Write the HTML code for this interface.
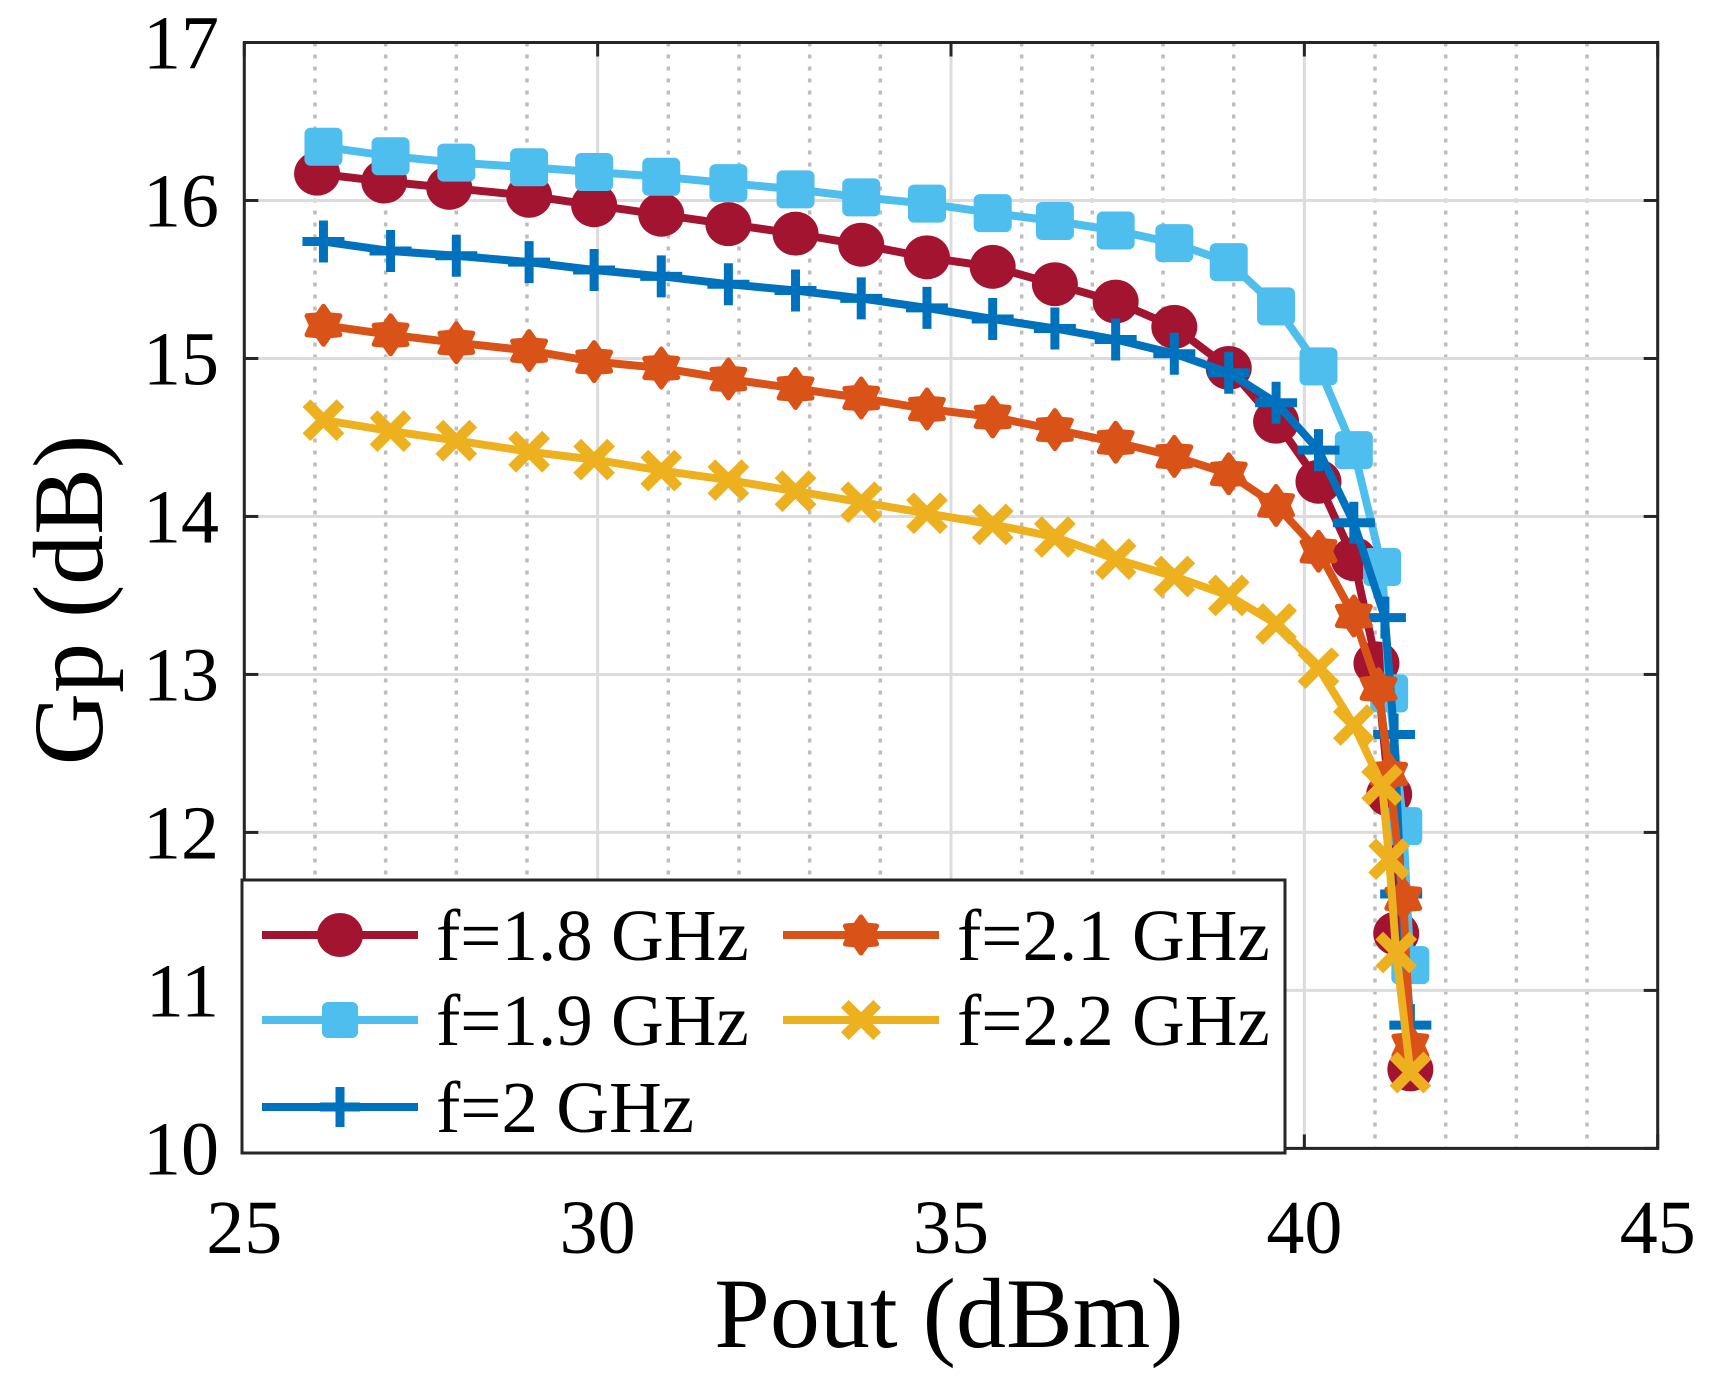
<!DOCTYPE html>
<html><head><meta charset="utf-8">
<style>
html,body{margin:0;padding:0;background:#fff;}
svg{display:block;}
text{font-family:"Liberation Serif","DejaVu Serif",serif;fill:#000;}
</style></head>
<body>
<svg id="chart" width="1710" height="1386" viewBox="0 0 1710 1386" xmlns="http://www.w3.org/2000/svg">
<rect width="1710" height="1386" fill="#fff"/>
<g id="grid"></g>
<g id="series"></g>
<g id="axes"></g>
<g id="legend"></g>
</svg>
<script>
const xTicks=[25,30,35,40,45];
const yTicks=[10,11,12,13,14,15,16,17];
const seriesNames=["f=1.8 GHz","f=1.9 GHz","f=2 GHz","f=2.1 GHz","f=2.2 GHz"];
const x18=[26.03,26.98,27.9,29.03,29.95,30.9,31.85,32.8,33.73,34.66,35.59,36.47,37.33,38.16,38.93,39.6,40.2,40.7,41.02,41.2,41.3,41.5];
const y18=[16.17,16.12,16.08,16.03,15.97,15.91,15.85,15.79,15.72,15.64,15.58,15.47,15.36,15.2,14.94,14.6,14.22,13.73,13.07,12.24,11.36,10.5];
const x19=[26.12,27.07,28.0,29.03,29.95,30.9,31.85,32.8,33.73,34.66,35.59,36.47,37.33,38.16,38.93,39.6,40.2,40.7,41.1,41.2,41.4,41.5];
const y19=[16.34,16.28,16.24,16.21,16.18,16.15,16.11,16.07,16.02,15.98,15.92,15.87,15.81,15.73,15.61,15.33,14.95,14.42,13.68,12.88,12.04,11.16];
const x20=[26.12,27.07,28.0,29.03,29.95,30.9,31.85,32.8,33.73,34.66,35.59,36.47,37.33,38.16,38.93,39.6,40.2,40.7,41.14,41.27,41.37,41.5];
const y20=[15.74,15.68,15.65,15.61,15.56,15.52,15.47,15.43,15.38,15.32,15.25,15.19,15.12,15.03,14.91,14.72,14.42,13.96,13.36,12.62,11.61,10.78];
const x21=[26.12,27.07,28.0,29.03,29.95,30.9,31.85,32.8,33.73,34.66,35.59,36.47,37.33,38.16,38.93,39.6,40.2,40.7,41.05,41.2,41.4,41.5];
const y21=[15.21,15.15,15.1,15.05,14.98,14.94,14.87,14.81,14.75,14.68,14.63,14.55,14.47,14.38,14.27,14.07,13.78,13.37,12.91,12.37,11.58,10.65];
const x22=[26.12,27.07,28.0,29.03,29.95,30.9,31.85,32.8,33.73,34.66,35.59,36.47,37.33,38.16,38.93,39.6,40.2,40.7,41.1,41.2,41.3,41.5];
const y22=[14.61,14.54,14.48,14.41,14.36,14.29,14.23,14.16,14.09,14.02,13.95,13.87,13.73,13.62,13.5,13.32,13.04,12.68,12.3,11.83,11.24,10.48];

const NS="http://www.w3.org/2000/svg";
const L=244.3,R=1657.7,T=42.5,B=1148.4;
const xMin=25,xMax=45,yMin=10,yMax=17;
function sx(v){return L+(v-xMin)/(xMax-xMin)*(R-L);}
function sy(v){return B-(v-yMin)/(yMax-yMin)*(B-T);}
function mk(tag,attrs,parent){const e=document.createElementNS(NS,tag);for(const k in attrs)e.setAttribute(k,attrs[k]);parent.appendChild(e);return e;}

const grid=document.getElementById('grid');
const axes=document.getElementById('axes');
const ser=document.getElementById('series');
const leg=document.getElementById('legend');

mk('rect',{x:L,y:T,width:R-L,height:B-T,fill:'#fff'},grid);
for(let v=xMin+1;v<xMax;v++){
  if(v%5===0)continue;
  const l=mk('line',{x1:sx(v),x2:sx(v),y1:T,y2:B,stroke:'#bdbdbd','stroke-width':3.5,'stroke-dasharray':'4 8'},grid);
  
  
}
xTicks.forEach(v=>{
  const l=mk('line',{x1:sx(v),x2:sx(v),y1:T,y2:B,stroke:'#dcdcdc','stroke-width':3},grid);
  
  
});
yTicks.forEach(v=>{
  const l=mk('line',{x1:L,x2:R,y1:sy(v),y2:sy(v),stroke:'#dcdcdc','stroke-width':3},grid);
  
  
});

const colors=['#A2142F','#4DBEEE','#0072BD','#D95319','#EDB120'];
const markers=['circle','square','plus','hexagram','x'];
const xs=[x18,x19,x20,x21,x22], ys=[y18,y19,y20,y21,y22];

function marker(type,cx,cy,color,parent,scale){
  const s=scale||1;let e;
  if(type==='circle'){e=mk('ellipse',{cx:cx,cy:cy,rx:23*s,ry:22*s,fill:color},parent);}
  else if(type==='square'){e=mk('rect',{x:cx-19*s,y:cy-19*s,width:38*s,height:38*s,rx:6,fill:color},parent);}
  else if(type==='plus'){e=mk('path',{d:`M${cx-21*s},${cy}H${cx+21*s}M${cx},${cy-21*s}V${cy+21*s}`,stroke:color,'stroke-width':9,fill:'none'},parent);}
  else if(type==='hexagram'){
    let pts=[];for(let i=0;i<12;i++){const a=Math.PI/6*i+Math.PI/2;const r=(i%2===0?19:12)*s;pts.push((cx+r*Math.cos(a)).toFixed(1)+','+(cy-r*Math.sin(a)).toFixed(1));}
    e=mk('polygon',{points:pts.join(' '),fill:color,stroke:color,'stroke-width':5,'stroke-linejoin':'round'},parent);}
  else {e=mk('path',{d:`M${cx-17*s},${cy-17*s}L${cx+17*s},${cy+17*s}M${cx-17*s},${cy+17*s}L${cx+17*s},${cy-17*s}`,stroke:color,'stroke-width':11,fill:'none'},parent);}
  return e;
}

for(let k=0;k<5;k++){
  const g=mk('g',{},ser);
  
  
  const d=xs[k].map((v,i)=>(i?'L':'M')+sx(v).toFixed(1)+','+sy(ys[k][i]).toFixed(1)).join('');
  const p=mk('path',{d:d,fill:'none',stroke:colors[k],'stroke-width':8,'stroke-linejoin':'round'},g);
  
  
  xs[k].forEach((v,i)=>{
    const m=marker(markers[k],sx(v),sy(ys[k][i]),colors[k],g);
    
    
  });
}

const box=mk('rect',{x:L,y:T,width:R-L,height:B-T,fill:'none',stroke:'#262626','stroke-width':3},axes);


xTicks.forEach(v=>{
  mk('line',{x1:sx(v),x2:sx(v),y1:B,y2:B-14,stroke:'#262626','stroke-width':3},axes);
  mk('line',{x1:sx(v),x2:sx(v),y1:T,y2:T+14,stroke:'#262626','stroke-width':3},axes);
  const t=mk('text',{x:sx(v),y:1253,'text-anchor':'middle','font-size':76,fill:'#262626'},axes);
  t.textContent=v;
  
  
});
yTicks.forEach(v=>{
  mk('line',{x1:L,x2:L+14,y1:sy(v),y2:sy(v),stroke:'#262626','stroke-width':3},axes);
  mk('line',{x1:R,x2:R-14,y1:sy(v),y2:sy(v),stroke:'#262626','stroke-width':3},axes);
  const t=mk('text',{x:219,y:sy(v)+26,'text-anchor':'end','font-size':76,fill:'#262626'},axes);
  t.textContent=v;
  
  
});
const xt=mk('text',{x:949,y:1347,'text-anchor':'middle','font-size':100},axes);
xt.textContent='Pout (dBm)';


const yt=mk('text',{x:0,y:0,'text-anchor':'middle','font-size':100,transform:'translate(102,600) rotate(-90)'},axes);
yt.textContent='Gp (dB)';



const lb=mk('rect',{x:242,y:880,width:1043,height:273,fill:'#fff',stroke:'#262626','stroke-width':3},leg);


const legPos=[[262,935],[262,1020],[262,1107],[783,935],[783,1020]];
for(let k=0;k<5;k++){
  const g=mk('g',{},leg);
  
  
  const [lx,ly]=legPos[k];
  mk('line',{x1:lx,x2:lx+156,y1:ly,y2:ly,stroke:colors[k],'stroke-width':8},g);
  marker(markers[k],lx+78,ly,colors[k],g,k===0?1:0.95);
  const t=mk('text',{x:lx+174,y:ly+25,'font-size':73},g);
  t.textContent=seriesNames[k];
}
</script>
</body></html>
